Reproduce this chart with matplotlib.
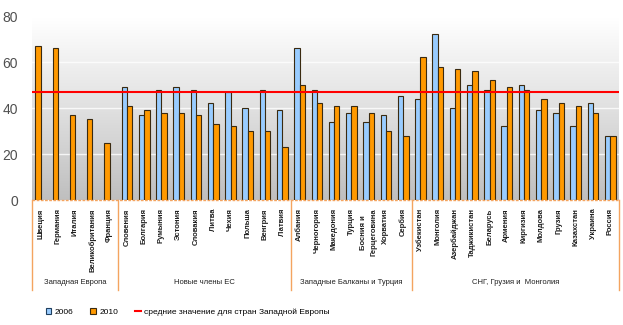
import numpy as np
import matplotlib
matplotlib.use("Agg")
import matplotlib.pyplot as plt
from matplotlib.patches import Rectangle
from matplotlib.lines import Line2D

plt.rcParams['font.family'] = ['Liberation Sans', 'DejaVu Sans']

countries = ["Швеция", "Германия", "Италия", "Великобритания", "Франция",
             "Словения", "Болгария", "Румыния", "Эстония", "Словакия", "Литва",
             "Чехия", "Польша", "Венгрия", "Латвия",
             "Албания", "Черногория", "Македония", "Турция",
             "Босния и\nГерцеговина", "Хорватия", "Сербия",
             "Узбекистан", "Монголия", "Азербайджан", "Таджикистан", "Беларусь",
             "Армения", "Киргизия", "Молдова", "Грузия", "Казахстан", "Украина",
             "Россия"]
groups = ["Западная Европа", "Новые члены ЕС", "Западные Балканы и Турция",
          "СНГ, Грузия и  Монголия"]
group_sizes = [5, 10, 7, 12]

# 2006 values (no data for Western Europe)
v2006 = [None, None, None, None, None,
         49, 37, 48, 49, 48, 42, 47, 40, 48, 39,
         66, 48, 34, 38, 34, 37, 45,
         44, 72, 40, 50, 48, 32, 50, 39, 38, 32, 42, 28]
v2010 = [67, 66, 37, 35, 25,
         41, 39, 38, 38, 37, 33, 32, 30, 30, 23,
         50, 42, 41, 41, 38, 30, 28,
         62, 58, 57, 56, 52, 49, 48, 44, 42, 41, 38, 28]
west_avg = 47

blue = "#99ccff"
orange = "#ff9900"
edge = "#3a2a10"
sep_color = "#f4a460"

fig = plt.figure(figsize=(6.23, 3.25), dpi=100)
ax = fig.add_axes([32 / 623, 1 - 200 / 325, 587 / 623, 184 / 325])

n = len(countries)
x = np.arange(n)
w = 0.31

# grey-to-white gradient background
grad = np.linspace(0.66, 1.0, 256) ** 0.7
ax.imshow(grad[::-1, None] * np.ones((1, 2)), cmap="gray", vmin=0, vmax=1,
          extent=[-0.5, n - 0.5, 0, 80], aspect="auto", zorder=0,
          interpolation="bicubic")

for yv in [20, 40, 60]:
    ax.axhline(yv, color="white", lw=1.0, alpha=0.8, zorder=1)

for i in range(n):
    if v2006[i] is None:
        # only 2010 available, drawn in the first slot
        ax.bar(x[i] - w / 2, v2010[i], w, color=orange, edgecolor=edge,
               linewidth=0.8, zorder=2)
    else:
        ax.bar(x[i] - w / 2, v2006[i], w, color=blue, edgecolor=edge,
               linewidth=0.8, zorder=2)
        ax.bar(x[i] + w / 2, v2010[i], w, color=orange, edgecolor=edge,
               linewidth=0.8, zorder=2)

ax.axhline(west_avg, color="#ff0000", lw=1.5, zorder=3)

ax.set_xlim(-0.5, n - 0.5)
ax.set_ylim(0, 80)
for s in ax.spines.values():
    s.set_visible(False)
ax.plot([-0.5, n - 0.5], [0, 0], color=sep_color, lw=1.0, ls=(0, (2, 1)),
        zorder=4, clip_on=False)

ax.set_yticks([0, 20, 40, 60, 80])
ax.tick_params(axis="y", length=0, labelsize=10, labelcolor="#505050", pad=10)
ax.set_xticks(x)
ax.set_xticklabels(countries, rotation=90, fontsize=5.5, va="top",
                   ha="center", linespacing=1.6, fontweight="bold",
                   color="#202020")
ax.tick_params(axis="x", length=0, pad=6)

# group separators and captions
trans = ax.get_xaxis_transform()
bounds = np.concatenate([[0], np.cumsum(group_sizes)]) - 0.5
for b in bounds:
    ax.plot([b, b], [0, -0.49], color=sep_color, lw=1.0, transform=trans,
            clip_on=False)
for g, lo, hi in zip(groups, bounds[:-1], bounds[1:]):
    ax.text((lo + hi) / 2, -0.45, g, transform=trans, ha="center",
            va="center", fontsize=5.5, color="#202020")

# legend
handles = [Rectangle((0, 0), 1, 1, facecolor=blue, edgecolor="#1f3f5f", lw=0.8),
           Rectangle((0, 0), 1, 1, facecolor=orange, edgecolor=edge, lw=0.8),
           Line2D([], [], color="#ff0000", lw=1.5)]
fig.legend(handles, ["2006", "2010", "средние значение для стран Западной Европы"],
           loc="center left", bbox_to_anchor=(38 / 623, 1 - 312 / 325),
           ncol=3, frameon=False, fontsize=6, handlelength=0.7,
           handleheight=0.7, handletextpad=0.4, columnspacing=2.0)

fig.savefig("out.png", dpi=100, facecolor="white")
